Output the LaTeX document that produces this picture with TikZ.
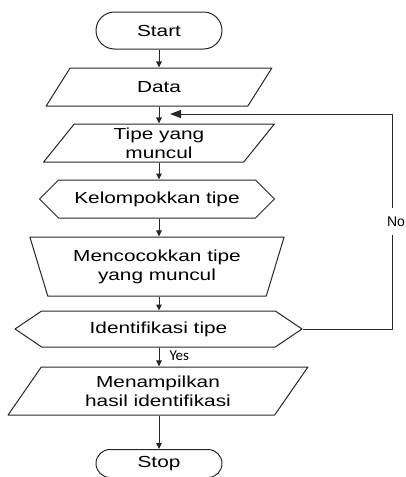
\documentclass[tikz,border=0pt]{standalone}
\usepackage{fontspec}
\setmainfont[FakeStretch=1.3]{Liberation Sans}
\newfontfamily\nofont{Liberation Sans}
\newfontfamily\yesfont{Carlito}
\usetikzlibrary{arrows.meta,positioning,shapes.geometric,shapes.symbols,shapes.misc}

\begin{document}
\begin{tikzpicture}[
  x=1pt, y=-1pt,
  line join=round,
  every node/.style={font=\fontsize{16}{19}\selectfont, align=center, inner sep=0pt},
  flow/.style={draw=black!85, line width=1pt, -{Triangle[length=6pt,width=5.5pt]}},
  loopback/.style={draw=black!85, line width=1pt, -{Triangle[length=11pt,width=8pt]}}
]

% ---------- node styles ----------
\tikzset{
  terminal/.style={rounded rectangle, draw=black!85, line width=1pt, minimum width=126pt, minimum height=#1},
  iobox/.style={trapezium, trapezium stretches=true, trapezium left angle=#1, trapezium right angle=180-#1,
    draw=black!85, line width=1pt},
  prepbox/.style={signal, signal from=nowhere, signal to=east and west, signal pointer angle=#1,
    draw=black!85, line width=1pt},
  manualbox/.style={trapezium, trapezium stretches=true, trapezium left angle=112, trapezium right angle=112,
    draw=black!85, line width=1pt}
}

\useasboundingbox (0,0) rectangle (406,477);

% ---------- main column ----------
\node[terminal=37pt] (start) at (159,30.5) {Start};
\node[iobox=62, minimum width=226pt, minimum height=38pt] (data) at (159,87) {Data};
\node[iobox=62, minimum width=231pt, minimum height=38pt] (tipe) at (159,143) {Tipe yang\\muncul};
\node[prepbox=90, minimum width=235pt, minimum height=38pt] (kelompok) at (157,199) {Kelompokkan tipe};
\node[manualbox, minimum width=255pt, minimum height=59pt] (cocok) at (157,266.5) {Mencocokkan tipe\\yang muncul};
\node[prepbox=68, minimum width=287pt, minimum height=36pt] (iden) at (158.5,329) {Identifikasi tipe};
\node[iobox=56, minimum width=300pt, minimum height=48pt] (tampil) at (158,391) {Menampilkan\\hasil identifikasi};
\node[terminal=28pt] (stop) at (159,463.5) {Stop};

% ---------- connectors ----------
\draw[flow] (start.south) -- (start.south |- data.north);
\draw[flow] (start.south |- data.south) -- (start.south |- tipe.north);
\draw[flow] (start.south |- tipe.south) -- (start.south |- kelompok.north);
\draw[flow] (start.south |- kelompok.south) -- (start.south |- cocok.north);
\draw[flow] (start.south |- cocok.south) -- (start.south |- iden.north);
\draw[flow] (start.south |- iden.south) -- node[right=10pt, font=\yesfont\fontsize{15}{18}\selectfont, yshift=1pt] {Yes} (start.south |- tampil.north);
\draw[flow] (start.south |- tampil.south) -- (stop.north);

% ---------- loop back ----------
\coordinate (back) at (170,114);
\draw[loopback] (iden.east) -| node[pos=0.75, fill=white, inner xsep=2pt, inner ysep=9pt, xshift=4pt,
  font=\nofont\fontsize{14}{16}\selectfont] {No} (392,114) -- (back);

\end{tikzpicture}
\end{document}
